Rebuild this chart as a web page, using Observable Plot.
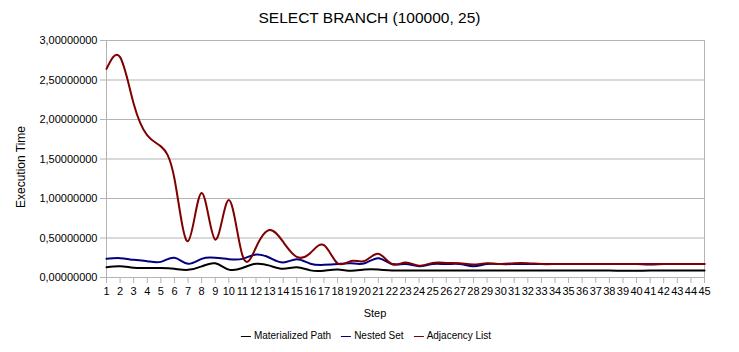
<!DOCTYPE html>
<html>
<head>
<meta charset="utf-8">
<script src="https://cdn.jsdelivr.net/npm/d3@7"></script>
<script src="https://cdn.jsdelivr.net/npm/@observablehq/plot@0.6"></script>
<style>
  body { margin: 0; background: white; }
  #wrap { position: relative; width: 739px; height: 352px; font-family: "Liberation Sans", Arial, sans-serif; color: black; }
  .ov { position: absolute; white-space: nowrap; line-height: 1; }
  #title { left: 0; width: 739px; top: 10px; text-align: center; font-size: 15.5px; }
  #ylab { left: 21px; top: 167px; font-size: 12px; transform: translate(-50%, -50%) rotate(-90deg); }
  #xlab { left: 375px; top: 313px; font-size: 11px; transform: translate(-50%, -50%); }
  #legend { left: 370px; top: 336px; font-size: 10px; transform: translate(-50%, -50%); display: flex; align-items: center; gap: 2px; }
  #legend .item { display: flex; align-items: center; margin-right: 8px; }
  #legend .sw { width: 10px; height: 1px; margin-right: 3px; }
  svg .tick-y text { letter-spacing: -0.3px; }
</style>
</head>
<body>
<div id="wrap">
  <div id="title" class="ov">SELECT BRANCH (100000, 25)</div>
  <div id="ylab" class="ov">Execution Time</div>
  <div id="xlab" class="ov">Step</div>
  <div id="legend" class="ov"></div>
</div>
<script>
const steps = [1,2,3,4,5,6,7,8,9,10,11,12,13,14,15,16,17,18,19,20,21,22,23,24,25,26,27,28,29,30,31,32,33,34,35,36,37,38,39,40,41,42,43,44,45];
const seriesNames = ["Materialized Path", "Nested Set", "Adjacency List"];
const seriesColors = ["#000000", "#000080", "#800000"];
const yTicks = [0, 0.5, 1, 1.5, 2, 2.5, 3];

const materializedPath = [0.130,0.143,0.123,0.120,0.120,0.110,0.097,0.140,0.180,0.100,
  0.120,0.173,0.150,0.110,0.130,0.090,0.085,0.100,0.085,0.100,
  0.100,0.089,0.089,0.089,0.089,0.089,0.089,0.089,0.089,0.089,
  0.089,0.089,0.089,0.089,0.089,0.089,0.089,0.089,0.085,0.085,
  0.089,0.089,0.089,0.089,0.089];
const nestedSet = [0.236,0.245,0.224,0.207,0.198,0.250,0.173,0.236,0.250,0.232,
  0.236,0.290,0.250,0.190,0.230,0.175,0.160,0.170,0.180,0.180,
  0.245,0.170,0.170,0.143,0.170,0.170,0.170,0.143,0.170,0.170,
  0.170,0.170,0.170,0.170,0.170,0.170,0.170,0.170,0.170,0.170,
  0.166,0.170,0.170,0.170,0.170];
const adjacencyList = [2.64,2.79,2.20,1.80,1.66,1.25,0.46,1.07,0.48,0.98,
  0.28,0.38,0.60,0.45,0.26,0.31,0.41,0.18,0.21,0.21,
  0.30,0.17,0.19,0.15,0.185,0.185,0.18,0.165,0.18,0.17,
  0.18,0.18,0.17,0.17,0.17,0.17,0.17,0.17,0.17,0.17,
  0.17,0.17,0.17,0.17,0.17];

const seriesValues = [materializedPath, nestedSet, adjacencyList];
const data = seriesNames.flatMap((name, i) =>
  seriesValues[i].map((v, j) => ({step: steps[j], value: v, series: name})));

const grey = "#b3b3b3";
const chart = Plot.plot({
  width: 739, height: 352,
  marginLeft: 106, marginRight: 35, marginTop: 40, marginBottom: 75,
  x: {domain: [1, 45]},
  y: {domain: [0, 3]},
  color: {domain: seriesNames, range: seriesColors},
  style: {fontFamily: "'Liberation Sans', Arial, sans-serif", fontSize: "11px", background: "white", color: "black"},
  marks: [
    Plot.gridY(yTicks, {stroke: grey, strokeOpacity: 1}),
    Plot.ruleX([1, 45], {y1: 0, y2: 3, stroke: grey}),
    Plot.ruleY([0], {stroke: grey}),
    Plot.axisY(yTicks, {tickSize: 6, tickPadding: 3, stroke: grey, fill: "black", label: null,
      tickFormat: d => d.toFixed(8).replace(".", ",")}),
    Plot.axisX(steps, {tickSize: 6, tickPadding: 4, stroke: grey, fill: "black", label: null,
      tickFormat: d => String(d)}),
    Plot.line(data, {x: "step", y: "value", z: "series", stroke: "series", strokeWidth: 2, curve: "natural"})
  ]
});
const wrap = document.getElementById("wrap");
wrap.insertBefore(chart, wrap.firstChild);
chart.style.position = "absolute";
chart.style.left = "0";
chart.style.top = "0";

const legend = document.getElementById("legend");
seriesNames.forEach((name, i) => {
  const item = document.createElement("span");
  item.className = "item";
  const sw = document.createElement("span");
  sw.className = "sw";
  sw.style.background = seriesColors[i];
  item.appendChild(sw);
  item.appendChild(document.createTextNode(name));
  legend.appendChild(item);
});
</script>
</body>
</html>
